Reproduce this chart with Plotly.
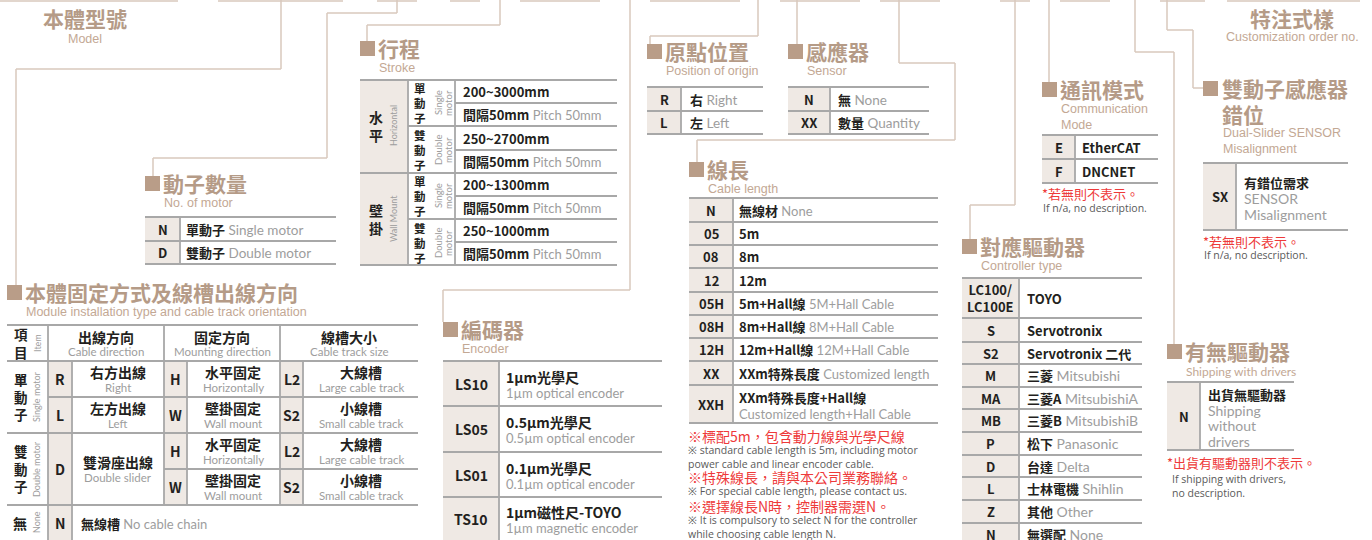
import plotly.graph_objects as go

# ---------------- data ----------------
model_title = ["本體型號", "Model"]
custom_title = ["特注式樣", "Customization order no."]

motor_codes = ["N", "D"]
motor_zh = ["單動子", "雙動子"]
motor_en = ["Single motor", "Double motor"]

stroke_groups_zh = ["水平", "壁掛"]
stroke_groups_en = ["Horizontal", "Wall Mount"]
stroke_motor_zh = ["單動子", "雙動子"]
stroke_motor_en = [["Single", "motor"], ["Double", "motor"]]
stroke_ranges = ["200~3000mm", "250~2700mm", "200~1300mm", "250~1000mm"]
stroke_pitch_zh = "間隔50mm"
stroke_pitch_en = "Pitch 50mm"

install_head_zh = ["出線方向", "固定方向", "線槽大小"]
install_head_en = ["Cable direction", "Mounting direction", "Cable track size"]
install_items_zh = ["單動子", "雙動子", "無"]
install_items_en = ["Single motor", "Double motor", "None"]
dir_codes = ["R", "L", "D"]
dir_zh = ["右方出線", "左方出線", "雙滑座出線"]
dir_en = ["Right", "Left", "Double slider"]
mount_codes = ["H", "W"]
mount_zh = ["水平固定", "壁掛固定"]
mount_en = ["Horizontally", "Wall mount"]
track_codes = ["L2", "S2"]
track_zh = ["大線槽", "小線槽"]
track_en = ["Large cable track", "Small cable track"]
none_code = "N"
none_zh = "無線槽"
none_en = "No cable chain"

encoder_codes = ["LS10", "LS05", "LS01", "TS10"]
encoder_zh = ["1µm光學尺", "0.5µm光學尺", "0.1µm光學尺", "1µm磁性尺-TOYO"]
encoder_en = ["1µm optical encoder", "0.5µm optical encoder", "0.1µm optical encoder", "1µm magnetic encoder"]

origin_codes = ["R", "L"]
origin_zh = ["右", "左"]
origin_en = ["Right", "Left"]

sensor_codes = ["N", "XX"]
sensor_zh = ["無", "數量"]
sensor_en = ["None", "Quantity"]

cable_codes = ["N", "05", "08", "12", "05H", "08H", "12H", "XX", "XXH"]
cable_zh = ["無線材", "5m", "8m", "12m", "5m+Hall線", "8m+Hall線", "12m+Hall線", "XXm特殊長度", "XXm特殊長度+Hall線"]
cable_en = ["None", "", "", "", "5M+Hall Cable", "8M+Hall Cable", "12M+Hall Cable", "Customized length", "Customized length+Hall Cable"]
cable_notes_red = ["※標配5m，包含動力線與光學尺線", "※特殊線長，請與本公司業務聯絡。", "※選擇線長N時，控制器需選N。"]
cable_notes_en = [["※ standard cable length is 5m, including motor", "power cable and linear encoder cable."],
                  ["※ For special cable length, please contact us."],
                  ["※ It is compulsory to select N for the controller", "while choosing cable length N."]]

comm_codes = ["E", "F"]
comm_names = ["EtherCAT", "DNCNET"]
na_note_red = "*若無則不表示。"
na_note_en = "If n/a, no description."

dual_codes = ["SX"]
dual_zh = ["有錯位需求"]
dual_en = ["SENSOR", "Misalignment"]

ctrl_codes = ["LC100/<br>LC100E", "S", "S2", "M", "MA", "MB", "P", "D", "L", "Z", "N"]
ctrl_zh = ["TOYO", "Servotronix", "Servotronix 二代", "三菱", "三菱A", "三菱B", "松下", "台達", "士林電機", "其他", "無選配"]
ctrl_en = ["", "", "", "Mitsubishi", "MitsubishiA", "MitsubishiB", "Panasonic", "Delta", "Shihlin", "Other", "None"]

drv_codes = ["N"]
drv_zh = ["出貨無驅動器"]
drv_en = ["Shipping", "without", "drivers"]
drv_note_red = "*出貨有驅動器則不表示。"
drv_note_en = ["If shipping with drivers,", "no description."]

# ---------------- style ----------------
TITLE = "#b59b87"
SUB = "#c3a894"
MARK = "#b99d88"
LINE = "#a8a8a8"
BEIGE = "#efe9e4"
CONN = "#d9c9bc"
BLACK = "#231f20"
GRAY = "#9d9d9d"
RED = "#ee3a3a"
NOTE = "#5a5a5a"
CJK = "Noto Sans CJK TC"
EN = "Lato"
SANS = "Liberation Sans"

shapes, ann = [], []


def line(x0, y0, x1, y1, color=LINE, w=1.8):
    shapes.append(dict(type="line", xref="x", yref="y", x0=x0, y0=y0, x1=x1, y1=y1,
                       line=dict(color=color, width=w)))


def rect(x0, y0, x1, y1, fill):
    shapes.append(dict(type="rect", xref="x", yref="y", x0=x0, y0=y0, x1=x1, y1=y1,
                       fillcolor=fill, line=dict(width=0), layer="below"))


def txt(x, y, s, size=13, color=BLACK, bold=False, xa="left", family=CJK, angle=0):
    if bold:
        s = "<b>" + s + "</b>"
    ann.append(dict(x=x, y=y, xref="x", yref="y", text=s, showarrow=False, xanchor=xa,
                    yanchor="middle", font=dict(size=size, color=color, family=family),
                    textangle=angle, borderpad=0, align="left"))


def mixed(x, y, zh, en, size=13, ensize=13, xa="left"):
    s = "<b>" + zh + "</b>"
    if en:
        s += "<span style='color:%s;font-family:%s;font-size:%spx'> %s</span>" % (GRAY, EN, ensize, en)
    txt(x, y, s, size, BLACK, False, xa)


def header(mx, my, title, subs, tsize=21, sub_dy=27, sub_step=16, sub_size=12.5, sub_family=SANS):
    rect(mx, my, mx + 15, my + 15, MARK)
    txt(mx + 17, my + 7, title, tsize, TITLE, bold=True)
    for i, s in enumerate(subs):
        txt(mx + 18, my + sub_dy + i * sub_step, s, sub_size, SUB, family=sub_family)


def code_table(x0, xc, x1, ys, codes, csize=13):
    rect(x0, ys[0], xc, ys[-1], BEIGE)
    for y in ys:
        line(x0, y, x1, y)
    line(xc, ys[0], xc, ys[-1])
    for i, c in enumerate(codes):
        ann_c = dict(x=(x0 + xc) / 2, y=(ys[i] + ys[i + 1]) / 2, xref="x", yref="y",
                     text="<b>" + c + "</b>", showarrow=False, xanchor="center", yanchor="middle",
                     font=dict(size=csize, color=BLACK, family=CJK), borderpad=0, align="center")
        ann.append(ann_c)


# ---------------- connectors ----------------
for seg in [(0, 178), (218, 343), (377, 417), (450, 480), (520, 600), (650, 740), (780, 860),
            (880, 940), (1000, 1030), (1060, 1110), (1160, 1205), (1227, 1360)]:
    line(seg[0], 1, seg[1], 1, CONN, 1.5)
conn = [
    (281, 0, 281, 69), (16, 69, 281, 69), (16, 69, 16, 285),
    (397, 0, 397, 13), (327, 13, 397, 13), (327, 13, 327, 158), (153, 158, 327, 158), (153, 158, 153, 176),
    (500, 0, 500, 25), (367, 25, 500, 25), (367, 25, 367, 41),
    (630, 0, 630, 290), (443, 290, 630, 290), (443, 290, 443, 322),
    (758, 0, 758, 36), (650, 36, 758, 36), (650, 36, 650, 44),
    (797, 0, 797, 44),
    (899, 0, 899, 63), (899, 63, 955, 63), (955, 63, 955, 140), (697, 140, 955, 140), (697, 140, 697, 162),
    (1015, 0, 1015, 205), (970, 205, 1015, 205), (970, 205, 970, 239),
    (1049, 0, 1049, 82),
    (1167, 0, 1167, 30), (1167, 30, 1193, 30), (1193, 30, 1193, 88), (1193, 88, 1203, 88),
    (1135, 0, 1135, 52), (1135, 52, 1174, 52), (1174, 52, 1174, 344),
]
for c in conn:
    line(*c, color=CONN, w=1.5)

# ---------------- model / custom titles ----------------
txt(85, 18, model_title[0], 21, TITLE, True, "center")
txt(85, 39, model_title[1], 12.5, SUB, False, "center", SANS)
txt(1292, 18, custom_title[0], 21, TITLE, True, "center")
txt(1292, 37, custom_title[1], 12.5, SUB, False, "center", SANS)

# ---------------- stroke ----------------
header(360, 41, "行程", ["Stroke"])
ys = [80, 103, 126, 150, 173, 196, 219, 242, 265]
rect(360, 80, 408, 265, BEIGE)
for y in [80, 173, 265]:
    line(360, y, 617, y)
for y in [126, 219]:
    line(408, y, 617, y)
for y in [103, 150, 196, 242]:
    line(455, y, 617, y)
line(408, 80, 408, 265)
line(455, 80, 455, 265)
for g in range(2):
    gc = 126 + g * 93
    txt(376, gc, stroke_groups_zh[g][0] + "<br>" + stroke_groups_zh[g][1], 14, BLACK, True, "center")
    txt(393, gc, stroke_groups_en[g], 9, GRAY, False, "center", EN, -90)
    for m in range(2):
        mc = 103 + g * 93 + m * 47
        txt(420, mc, "<br>".join(stroke_motor_zh[m]), 11.5, BLACK, True, "center")
        txt(438, mc, stroke_motor_en[m][0], 9.5, GRAY, False, "center", EN, -90)
        txt(448, mc, stroke_motor_en[m][1], 9.5, GRAY, False, "center", EN, -90)
for i, r in enumerate(stroke_ranges):
    txt(462, (ys[2 * i] + ys[2 * i + 1]) / 2, r, 13, BLACK, True)
    mixed(462, (ys[2 * i + 1] + ys[2 * i + 2]) / 2, stroke_pitch_zh, stroke_pitch_en, 13, 13)

# ---------------- motor count ----------------
header(145, 176, "動子數量", ["No. of motor"])
ys = [217, 241, 264]
code_table(145, 180, 336, ys, motor_codes)
for i in range(2):
    mixed(185, (ys[i] + ys[i + 1]) / 2, motor_zh[i], motor_en[i], 13, 13.5)

# ---------------- installation ----------------
header(7, 285, "本體固定方式及線槽出線方向", ["Module installation type and cable track orientation"])
rect(48, 361, 72, 541, BEIGE)
rect(164, 361, 187, 505, BEIGE)
rect(280, 361, 303, 505, BEIGE)
for y in [325, 361, 433, 505]:
    line(7, y, 418, y)
line(48, 397, 418, 397)
line(164, 469, 418, 469)
line(48, 325, 48, 541)
line(72, 361, 72, 541)
for x in [164, 280]:
    line(x, 325, x, 505)
for x in [187, 303]:
    line(x, 361, x, 505)
# header row
txt(21, 343, "項<br>目", 13.5, BLACK, True, "center")
txt(37, 343, "Item", 9, GRAY, False, "center", EN, -90)
for i, cx in enumerate([106, 222, 349]):
    txt(cx, 337, install_head_zh[i], 14, BLACK, True, "center")
    txt(cx, 351, install_head_en[i], 11.5, GRAY, False, "center", EN)
# item column
for g, gc in enumerate([397, 469]):
    txt(21, gc - 1, "<br>".join(install_items_zh[g]), 13.5, BLACK, True, "center")
    txt(36, gc, install_items_en[g], 9, GRAY, False, "center", EN, -90)
txt(20, 523, install_items_zh[2], 14, BLACK, True, "center")
txt(36, 522, install_items_en[2], 9, GRAY, False, "center", EN, -90)
# direction column
for i, (c0, c1) in enumerate([(361, 397), (397, 433), (433, 505)]):
    cc = (c0 + c1) / 2
    txt(60, cc, dir_codes[i], 14, BLACK, True, "center")
    txt(118, cc - 7, dir_zh[i], 14, BLACK, True, "center")
    txt(118, cc + 8, dir_en[i], 11.5, GRAY, False, "center", EN)
# mounting and track
rows = [(361, 397), (397, 433), (433, 469), (469, 505)]
for i, (c0, c1) in enumerate(rows):
    cc = (c0 + c1) / 2
    j = i % 2
    txt(175.5, cc, mount_codes[j], 14, BLACK, True, "center")
    txt(233, cc - 7, mount_zh[j], 14, BLACK, True, "center")
    txt(233, cc + 8, mount_en[j], 11.5, GRAY, False, "center", EN)
    txt(291.5, cc, track_codes[j], 14, BLACK, True, "center")
    txt(361, cc - 7, track_zh[j], 14, BLACK, True, "center")
    txt(361, cc + 8, track_en[j], 11.5, GRAY, False, "center", EN)
txt(60, 523, none_code, 14, BLACK, True, "center")
mixed(80, 523, none_zh, none_en, 13, 13)

# ---------------- encoder ----------------
header(443, 322, "編碼器", ["Encoder"])
ys = [361, 406, 452, 497, 541]
code_table(443, 499, 662, ys, encoder_codes, 14)
for i in range(4):
    cc = (ys[i] + ys[i + 1]) / 2
    txt(505, cc - 7, encoder_zh[i], 14, BLACK, True)
    txt(505, cc + 9, encoder_en[i], 13, GRAY, False, "left", EN)

# ---------------- origin ----------------
header(647, 44, "原點位置", ["Position of origin"])
ys = [87, 111, 134]
code_table(647, 681, 763, ys, origin_codes)
for i in range(2):
    mixed(689, (ys[i] + ys[i + 1]) / 2, origin_zh[i], origin_en[i], 13, 13.5)

# ---------------- sensor ----------------
header(788, 44, "感應器", ["Sensor"])
code_table(788, 830, 929, ys, sensor_codes)
for i in range(2):
    mixed(837, (ys[i] + ys[i + 1]) / 2, sensor_zh[i], sensor_en[i], 13, 13.5)

# ---------------- cable length ----------------
header(689, 162, "線長", ["Cable length"])
ys = [198, 222, 245, 268, 292, 315, 338, 361, 385, 423]
code_table(689, 733, 938, ys, cable_codes)
for i in range(8):
    mixed(738, (ys[i] + ys[i + 1]) / 2, cable_zh[i], cable_en[i], 13, 13)
txt(738, 397, cable_zh[8], 13, BLACK, True)
txt(738, 414, cable_en[8], 13, GRAY, False, "left", EN)
red_y = [436, 477, 506]
en_y = [450, 491, 520]
for k in range(3):
    txt(687, red_y[k], cable_notes_red[k], 14, RED)
    n = len(cable_notes_en[k])
    txt(687, en_y[k] + (n - 1) * 6.8, "<br>".join(cable_notes_en[k]), 10.5, NOTE, False, "left", "Open Sans")

# ---------------- communication ----------------
header(1042, 82, "通訊模式", ["Communication", "Mode"])
ys = [135, 159, 183]
code_table(1042, 1075, 1158, ys, comm_codes)
for i in range(2):
    txt(1081, (ys[i] + ys[i + 1]) / 2, comm_names[i], 13, BLACK, True)
txt(1041, 193, na_note_red, 13, RED)
txt(1042, 208, na_note_en, 10.5, NOTE, False, "left", "Open Sans")

# ---------------- dual slider sensor misalignment ----------------
rect(1203, 81, 1218, 96, MARK)
txt(1221, 88, "雙動子感應器", 21, TITLE, True)
txt(1221, 114, "錯位", 21, TITLE, True)
txt(1222, 133, "Dual-Slider SENSOR", 12.5, SUB, False, "left", SANS)
txt(1222, 149, "Misalignment", 12.5, SUB, False, "left", SANS)
ys = [163, 230]
code_table(1203, 1236, 1348, ys, dual_codes)
txt(1243, 182, dual_zh[0], 13, BLACK, True)
txt(1243, 198, dual_en[0], 14, GRAY, False, "left", EN)
txt(1243, 214, dual_en[1], 14, GRAY, False, "left", EN)
txt(1202, 241, na_note_red, 13, RED)
txt(1203, 255, na_note_en, 10.5, NOTE, False, "left", "Open Sans")

# ---------------- controller ----------------
header(962, 239, "對應驅動器", ["Controller type"])
ys = [278, 318, 342, 364, 387, 409, 432, 455, 477, 500, 523, 546]
code_table(962, 1019, 1142, ys, ctrl_codes)
for i in range(len(ctrl_codes)):
    mixed(1026, (ys[i] + ys[i + 1]) / 2, ctrl_zh[i], ctrl_en[i], 13, 14)

# ---------------- drivers ----------------
header(1167, 344, "有無驅動器", ["Shipping with drivers"], sub_size=12, sub_family=EN)
ys = [382, 450]
code_table(1167, 1200, 1294, ys, drv_codes)
txt(1207, 394, drv_zh[0], 13, BLACK, True)
for k, s in enumerate(drv_en):
    txt(1207, 410 + 15.5 * k, s, 14, GRAY, False, "left", EN)
txt(1166, 462, drv_note_red, 13, RED)
txt(1171, 485.8, "<br>".join(drv_note_en), 10.5, NOTE, False, "left", "Open Sans")

# ---------------- figure ----------------
fig = go.Figure()
fig.update_layout(
    width=1372, height=540, margin=dict(l=0, r=0, t=0, b=0),
    paper_bgcolor="white", plot_bgcolor="white",
    xaxis=dict(range=[0, 1372], visible=False, fixedrange=True),
    yaxis=dict(range=[540, 0], visible=False, fixedrange=True),
    shapes=shapes, annotations=ann, showlegend=False,
)
fig.write_html("out.html", config={"displayModeBar": False},
               post_script="document.body.style.margin='0';document.body.style.overflow='hidden';")
